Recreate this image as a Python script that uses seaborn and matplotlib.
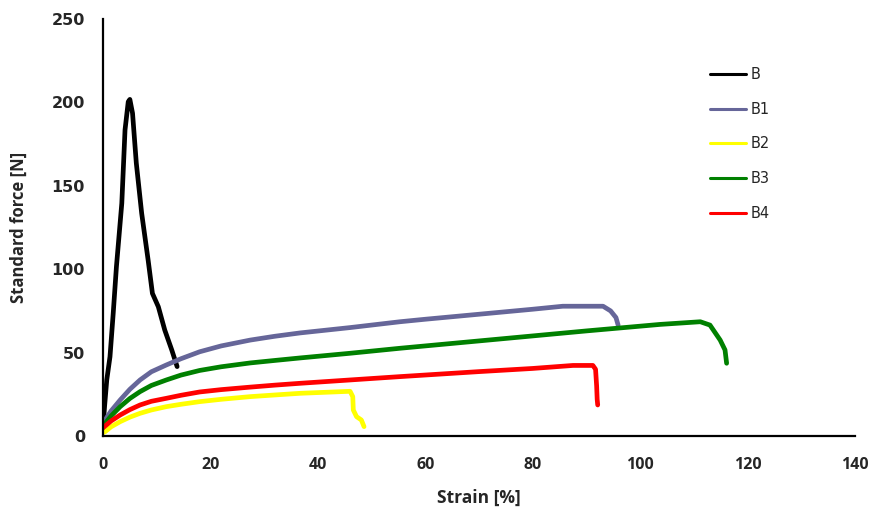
"""
Tensile test curves: standard force vs strain for samples B, B1..B4.
Values read off the reference chart by eye.
"""
import pandas as pd
import matplotlib
matplotlib.use("Agg")
import matplotlib.pyplot as plt
import seaborn as sns

# =========================
# Data
# =========================
samples = ["B", "B1", "B2", "B3", "B4"]
colors = ["#000000", "#666699", "#FFFF00", "#008000", "#FF0000"]

b_strain = [0, 0.3, 0.7, 1.3, 1.9, 2.5, 3.5, 4.1, 4.7, 5.0, 5.5, 6.2, 7.2,
            8.4, 9.2, 10.3, 11.5, 12.8, 13.8]
b_force = [5, 18, 33.6, 47.5, 73.5, 101.5, 139.5, 183.5, 200.4, 201.8, 193.5,
           163.6, 133.5, 105.5, 85.5, 77.5, 63.5, 51.6, 41.6]

b1_strain = [0, 0.4, 1.5, 3.2, 5, 6.9, 9, 11.8, 14.5, 18, 22, 27.4, 32, 36.7,
             46, 55.3, 60, 70, 80, 85.6, 93.1, 94.5, 95.5, 95.9]
b1_force = [5, 9.6, 15, 21.6, 28, 33.6, 38.5, 42.6, 46.3, 50.5, 54, 57.5,
            59.8, 61.8, 65, 68.5, 70, 73, 76, 77.8, 77.8, 75, 71, 66.5]

b2_strain = [0, 0.4, 1.5, 3.2, 5, 6.9, 9, 11.8, 14.5, 18, 22, 27.4, 32, 36.7,
             46, 46.5, 46.6, 47.2, 48.1, 48.6]
b2_force = [2, 2.6, 5.5, 8.6, 11.3, 13.6, 15.6, 17.6, 19, 20.6, 22, 23.6,
            24.6, 25.6, 26.8, 23.6, 15.6, 11.6, 9.6, 5.6]

b3_strain = [0, 0.4, 1.5, 3.2, 5, 6.9, 9, 11.8, 14.5, 18, 22, 27.4, 32, 36.7,
             46, 55.3, 70, 80, 90, 103.7, 111.2, 113, 114.9, 115.8, 116.1]
b3_force = [5, 7.6, 12, 17.6, 22.5, 26.6, 30.3, 33.6, 36.5, 39.3, 41.5, 43.8,
            45.3, 46.8, 49.6, 52.6, 57, 60, 63, 66.9, 68.5, 66.5, 57.5, 51.6,
            43.6]

b4_strain = [0, 0.4, 1.5, 3.2, 5, 6.9, 9, 11.8, 14.5, 18, 22, 27.4, 32, 36.7,
             46, 55.3, 70, 80, 87.5, 91.2, 91.7, 91.9, 92.0, 92.1]
b4_force = [5, 6, 9, 12.6, 15.8, 18.6, 20.8, 22.6, 24.4, 26.4, 27.8, 29.3,
            30.5, 31.6, 33.6, 35.6, 38.6, 40.5, 42.3, 42.3, 40, 30, 22, 18.6]

x_ticks = [0, 20, 40, 60, 80, 100, 120, 140]
y_ticks = [0, 50, 100, 150, 200, 250]

# =========================
# Build long-form table
# =========================
frames = []
for name, xs, ys in zip(samples,
                        [b_strain, b1_strain, b2_strain, b3_strain, b4_strain],
                        [b_force, b1_force, b2_force, b3_force, b4_force]):
    frames.append(pd.DataFrame({"strain": xs, "force": ys, "sample": name}))
df = pd.concat(frames, ignore_index=True)

# =========================
# Plot
# =========================
sns.set_style("white")
plt.rcParams["font.family"] = ["DejaVu Sans"]

fig = plt.figure(figsize=(8.72, 5.08), dpi=100)
ax = fig.add_axes([103 / 872, 1 - 436 / 508, 752 / 872, 417 / 508])

sns.lineplot(
    data=df, x="strain", y="force", hue="sample",
    hue_order=samples, palette=colors,
    sort=False, estimator=None,
    linewidth=3.4, ax=ax,
)
for line in ax.get_lines():
    line.set_solid_capstyle("round")
    line.set_solid_joinstyle("round")

ax.set_xlim(0, 140)
ax.set_ylim(0, 250)
ax.set_xticks(x_ticks)
ax.set_yticks(y_ticks)

for side in ["top", "right"]:
    ax.spines[side].set_visible(False)
for side in ["left", "bottom"]:
    ax.spines[side].set_color("black")
    ax.spines[side].set_linewidth(1.6)

ax.tick_params(axis="both", direction="out", length=5, width=1.6, color="black")
ax.tick_params(axis="x", pad=10)
ax.tick_params(axis="y", pad=8)
for lbl in ax.get_yticklabels():
    lbl.set_fontweight("bold")
    lbl.set_fontsize(11.5)
for lbl in ax.get_xticklabels():
    lbl.set_family("Open Sans")
    lbl.set_fontweight("bold")
    lbl.set_fontsize(11.5)

ax.set_xlabel("Strain [%]", family="Open Sans", fontweight="bold", fontsize=12.5)
ax.set_ylabel("Standard force [N]", family="Open Sans", fontweight="bold", fontsize=12)
ax.xaxis.set_label_coords(0.5, -0.127)
ax.yaxis.set_label_coords(-0.1, 0.5)

sns.move_legend(
    ax, "upper left",
    bbox_to_anchor=((704 - 103) / 752, (436 - 61) / 417),
    frameon=False, title=None, fontsize=10.5,
    handlelength=2.45, handletextpad=0.35, labelspacing=1.36,
    borderaxespad=0,
)
for h in ax.get_legend().get_lines():
    h.set_linewidth(2.2)

fig.savefig("out.png", dpi=100)
